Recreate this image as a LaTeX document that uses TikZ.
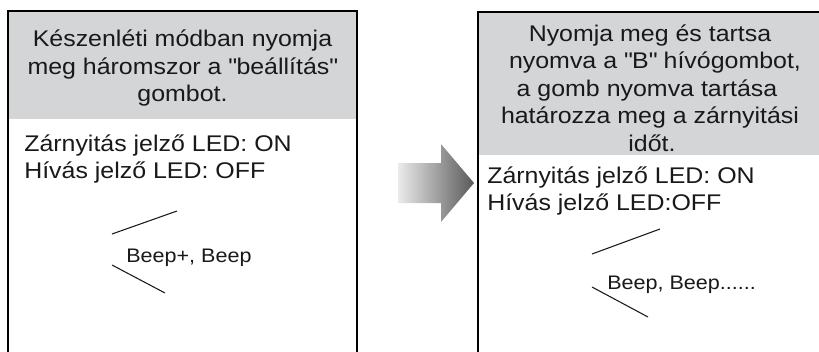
\documentclass[tikz,border=0pt]{standalone}
\usepackage{fontspec}
\setmainfont[FakeStretch=1.1]{Liberation Sans}
\usepackage{tikz}
\usetikzlibrary{arrows,positioning}

\definecolor{hdrgray}{RGB}{211,213,215}
\definecolor{inkblack}{RGB}{25,25,25}
\newcommand{\strq}{\XeTeXglyph\XeTeXcharglyph"22\relax}

\begin{document}
\begin{tikzpicture}[x=0.75pt, y=-0.75pt,
		hdr/.style={anchor=base, inner sep=0pt, text=inkblack, font=\fontsize{17}{20}\selectfont},
		body/.style={anchor=base west, inner sep=0pt, text=inkblack, font=\fontsize{17}{20}\selectfont},
		beep/.style={anchor=base west, inner sep=0pt, text=inkblack, font=\fontsize{14.7}{17}\selectfont},
		frame/.style={draw=black, line width=1.5pt},
		sound/.style={draw=inkblack, line width=0.8pt}]
			\useasboundingbox (0, 0) rectangle (819, 351);

			% left panel
			\fill [hdrgray] (8, 11) rectangle (357, 119);
			\draw [frame] (8, 352) -- (8, 11) -- (357, 11) -- (357, 352);

			\node [hdr] (lhead1) at (182.5, 46.5) {Készenléti módban nyomja};
			\node [hdr] (lhead2) at (182.5, 74) {meg háromszor a \strq beállítás\strq};
			\node [hdr] (lhead3) at (182.5, 101.5) {gombot.};
			\node [body] (lled1) at (24, 151.5) {Zárnyitás jelző LED: ON};
			\node [body] (lled2) at (24, 178.5) {Hívás jelző LED: OFF};
			\node [beep] (lbeep) at (126, 262) {Beep+, Beep};

			\coordinate (lup1) at (112, 234);
			\coordinate (lup2) at (177, 211);
			\coordinate (ldn1) at (112, 265);
			\coordinate (ldn2) at (165, 293);
			\draw [sound] (lup1) -- (lup2);
			\draw [sound] (ldn1) -- (ldn2);

			% arrow
			\shade [left color=black!8, right color=black!65]
				(398, 163) -- (441, 163) -- (441, 144) -- (474, 183)
				-- (441, 222) -- (441, 203) -- (398, 203) -- cycle;

			% right panel
			\fill [hdrgray] (478, 12) rectangle (819, 155);
			\draw [frame] (478, 352) -- (478, 12) -- (820, 12);

			\node [hdr] (rhead1) at (650, 41) {Nyomja meg és tartsa};
			\node [hdr] (rhead2) at (655, 68.5) {nyomva a \strq B\strq{} hívógombot,};
			\node [hdr] (rhead3) at (647, 96) {a gomb nyomva tartása};
			\node [hdr] (rhead4) at (650, 123.5) {határozza meg a zárnyitási};
			\node [hdr] (rhead5) at (652, 151) {időt.};
			\node [body] (rled1) at (487, 183) {Zárnyitás jelző LED: ON};
			\node [body] (rled2) at (487, 210) {Hívás jelző LED:OFF};
			\node [beep] (rbeep) at (607, 289) {Beep, Beep......};

			\coordinate (rup1) at (592, 254);
			\coordinate (rup2) at (660, 229);
			\coordinate (rdn1) at (592, 287);
			\coordinate (rdn2) at (648, 317);
			\draw [sound] (rup1) -- (rup2);
			\draw [sound] (rdn1) -- (rdn2);
		\end{tikzpicture}
\end{document}
